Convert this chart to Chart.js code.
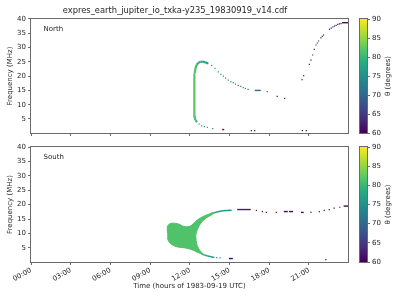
<!DOCTYPE html>
<html>
<head>
<meta charset="utf-8">
<script src="https://cdn.jsdelivr.net/npm/chart.js@4/dist/chart.umd.min.js"></script>
<style>
    body { margin: 0; background: #ffffff; }
    #figure { position: relative; width: 400px; height: 300px; overflow: hidden; }
    #figure canvas { position: absolute; }
</style>
</head>
<body>
<div id="figure">
    <canvas id="north-chart" width="352" height="140" style="left:0;top:0"></canvas>
    <canvas id="north-colorbar" width="48" height="140" style="left:352px;top:0"></canvas>
    <canvas id="south-chart" width="352" height="160" style="left:0;top:140px"></canvas>
    <canvas id="south-colorbar" width="48" height="160" style="left:352px;top:140px"></canvas>
</div>
<script>
// =========================================================
// DATA
// =========================================================

const chartTitle = "expres_earth_jupiter_io_txka-y235_19830919_v14.cdf";
const xAxisTitle = "Time (hours of 1983-09-19 UTC)";
const yAxisTitle = "Frequency (MHz)";
const colorbarTitle = "θ (degrees)";
const panelNames = ["North", "South"];

const hourTicks = [0, 3, 6, 9, 12, 15, 18, 21];
const hourLabels = ["00:00", "03:00", "06:00", "09:00", "12:00", "15:00", "18:00", "21:00"];
const freqTicks = [5, 10, 15, 20, 25, 30, 35, 40];
const thetaTicks = [60, 65, 70, 75, 80, 85, 90];

// North - continuous arc (vertical edge and top of the arch)
const northArcHours = [12.55, 12.42, 12.36, 12.33, 12.33, 12.34, 12.37, 12.43, 12.52, 12.65, 12.8, 12.95, 13.15, 13.4];
const northArcFreqs = [3.9, 4.6, 6.0, 10.0, 14.0, 18.0, 21.0, 22.8, 24.0, 24.7, 25.0, 25.1, 24.9, 24.4];
const northArcThetas = [80, 81, 82, 82, 82, 82, 81.5, 80.5, 79.5, 78.5, 78, 77.5, 77, 76.5];

// North - single detections
const northDotHours = [
    13.65, 13.9, 14.15, 14.35, 14.53, 14.7, 14.9, 15.1, 15.28, 15.45, 15.65, 15.85, 16.03, 16.2, 16.4,
    17.85, 18.6, 19.16,
    20.48, 20.6, 21.03, 21.15, 21.28, 21.4, 21.53, 21.63, 21.73, 21.9, 22.0, 22.1,
    22.55, 22.68, 22.8, 22.92, 23.05, 23.18, 23.3, 23.42,
    12.7, 12.9, 13.1, 13.33, 13.73, 16.65, 16.9, 20.5, 20.8
];
const northDotFreqs = [
    23.8, 22.7, 21.5, 20.6, 20.0, 19.3, 18.6, 18.1, 17.7, 17.2, 16.8, 16.4, 16.0, 15.7, 15.4,
    14.6, 12.9, 12.2,
    18.8, 20.2, 24.1, 25.6, 27.4, 29.4, 30.9, 31.6, 32.3, 33.4, 33.9, 34.4,
    36.4, 36.8, 37.2, 37.5, 37.8, 38.1, 38.3, 38.4,
    3.2, 2.6, 2.3, 2.1, 1.6, 0.95, 0.95, 0.95, 0.95
];
const northDotThetas = [
    77, 76.5, 76, 75.5, 75, 74.5, 74, 73.5, 73, 73, 72.5, 72, 72, 71.5, 71.5,
    70.5, 60.5, 60.5,
    62, 62, 62, 62, 62, 62, 62, 62, 62, 62, 62, 62,
    61, 61, 61, 61, 61, 61, 61, 61,
    79, 77, 76, 75, 74, 60.5, 60.5, 60.5, 60.5
];

// North - short horizontal runs
const northStreakStarts = [16.9, 23.5, 14.45];
const northStreakEnds = [17.36, 23.95, 14.6];
const northStreakFreqs = [15.0, 38.7, 1.3];
const northStreakThetas = [70.5, 61, 60.5];

// South - filled emission region
const southBlobHours = [
    10.28, 10.3, 10.45, 10.65, 10.95, 11.2, 11.45, 11.7, 11.95, 12.15, 12.35, 12.55, 12.8, 13.05, 13.35, 13.65, 13.9,
    13.7, 13.28, 12.95, 12.72, 12.55, 12.45, 12.47, 12.55, 12.7, 12.85, 13.0,
    12.85, 12.55, 12.3, 12.0, 11.65, 11.2, 10.9, 10.6, 10.4, 10.3
];
const southBlobFreqs = [
    10.5, 12.5, 13.3, 13.6, 13.5, 13.2, 12.6, 12.3, 12.4, 12.9, 13.8, 14.6, 15.4, 16.0, 16.6, 17.0, 17.3,
    16.6, 15.5, 14.3, 12.8, 11.2, 9.5, 7.6, 5.8, 4.5, 3.6, 3.0,
    3.0, 3.5, 4.1, 4.6, 5.0, 5.2, 5.5, 6.3, 7.2, 8.5
];
const southBlobTheta = 81.5;

// South - continuous tails leaving the region
const southUpperTailHours = [13.6, 13.9, 14.2, 14.5, 14.8, 15.15];
const southUpperTailFreqs = [16.9, 17.3, 17.6, 17.85, 18.0, 18.05];
const southUpperTailThetas = [78, 77, 76, 75.5, 75, 75];

const southLowerTailHours = [12.85, 13.1, 13.35, 13.6, 13.85];
const southLowerTailFreqs = [3.0, 2.55, 2.2, 1.9, 1.7];
const southLowerTailThetas = [79, 78, 77, 76, 75];

// South - single detections
const southDotHours = [17.03, 17.48, 17.78, 18.53, 21.15, 21.78, 22.15, 22.53, 22.9, 23.33, 14.03, 14.28, 22.28];
const southDotFreqs = [18.0, 17.6, 17.3, 17.3, 17.3, 17.6, 18.0, 18.3, 18.8, 19.1, 1.6, 1.5, 0.95];
const southDotThetas = [61, 60.5, 60.5, 60.5, 60.5, 60.5, 60.5, 60.5, 60.5, 60.5, 75, 74.5, 60.5];

// South - short horizontal runs
const southStreakStarts = [15.58, 19.1, 19.5, 20.4, 23.62, 14.95];
const southStreakEnds = [16.6, 19.4, 19.8, 20.6, 23.95, 15.25];
const southStreakFreqs = [18.3, 17.6, 17.6, 17.3, 19.5, 1.3];
const southStreakThetas = [62.5, 60.5, 60.5, 60.5, 60.5, 60.5];

// =========================================================
// STYLE
// =========================================================

const FONT_FAMILY = "'DejaVu Sans', sans-serif";
const TEXT_COLOR = "#262626";
const SPINE_COLOR = "#6b6b6b";
const VIRIDIS_STOPS = ["#440154", "#472d7b", "#3b528b", "#2c728e", "#21918c", "#28ae80", "#5ec962", "#addc30", "#fde725"];

// --- Helpers --- //

function hexToRgb(hex) {
    const value = parseInt(hex.slice(1), 16);
    return [(value >> 16) & 255, (value >> 8) & 255, value & 255];
}

function viridisColor(theta) {
    const low = thetaTicks[0];
    const high = thetaTicks[thetaTicks.length - 1];
    const t = Math.min(Math.max((theta - low) / (high - low), 0), 1);
    const position = t * (VIRIDIS_STOPS.length - 1);
    const index = Math.min(Math.floor(position), VIRIDIS_STOPS.length - 2);
    const fraction = position - index;

    const from = hexToRgb(VIRIDIS_STOPS[index]);
    const to = hexToRgb(VIRIDIS_STOPS[index + 1]);
    const rgb = from.map(function (channel, i) {
        return Math.round(channel + (to[i] - channel) * fraction);
    });

    return "rgb(" + rgb.join(",") + ")";
}

function toPoints(hours, freqs) {
    const points = [];

    for (let i = 0; i < hours.length; i++) {
        points.push({ x: hours[i], y: freqs[i] });
    }

    return points;
}

function font(size) {
    return { family: FONT_FAMILY, size: size, weight: "normal", lineHeight: 1.2 };
}

// =========================================================
// DATASETS
// =========================================================

function createLineDataset(hours, freqs, thetas, width) {
    return {
        data: toPoints(hours, freqs),
        showLine: true,
        fill: false,
        borderWidth: width,
        borderColor: viridisColor(thetas[0]),
        segment: {
            borderColor: function (ctx) {
                return viridisColor(thetas[ctx.p0DataIndex]);
            }
        },
        pointRadius: 0
    };
}

function createDotDataset(hours, freqs, thetas) {
    return {
        data: toPoints(hours, freqs),
        showLine: false,
        pointStyle: "rect",
        pointRadius: 0.85,
        pointBorderWidth: 0,
        pointBackgroundColor: thetas.map(viridisColor)
    };
}

function createStreakDatasets(starts, ends, freqs, thetas) {
    const datasets = [];

    for (let i = 0; i < starts.length; i++) {
        datasets.push({
            data: [{ x: starts[i], y: freqs[i] }, { x: ends[i], y: freqs[i] }],
            showLine: true,
            fill: false,
            borderWidth: 1.4,
            borderColor: viridisColor(thetas[i]),
            pointRadius: 0
        });
    }

    return datasets;
}

function createBlobDataset(hours, freqs, theta) {
    const color = viridisColor(theta);

    return {
        data: toPoints(hours, freqs),
        showLine: true,
        fill: "shape",
        backgroundColor: color,
        borderColor: color,
        borderWidth: 1,
        pointRadius: 0
    };
}

const northDatasets = [
    createLineDataset(northArcHours, northArcFreqs, northArcThetas, 2.2),
    createDotDataset(northDotHours, northDotFreqs, northDotThetas)
].concat(createStreakDatasets(northStreakStarts, northStreakEnds, northStreakFreqs, northStreakThetas));

const southDatasets = [
    createBlobDataset(southBlobHours, southBlobFreqs, southBlobTheta),
    createLineDataset(southUpperTailHours, southUpperTailFreqs, southUpperTailThetas, 1.5),
    createLineDataset(southLowerTailHours, southLowerTailFreqs, southLowerTailThetas, 1.5),
    createDotDataset(southDotHours, southDotFreqs, southDotThetas)
].concat(createStreakDatasets(southStreakStarts, southStreakEnds, southStreakFreqs, southStreakThetas));

// =========================================================
// PLUGINS
// =========================================================

const framePlugin = {
    id: "frame",
    afterDraw(chart) {
        const area = chart.chartArea;
        const ctx = chart.ctx;

        ctx.save();
        ctx.strokeStyle = SPINE_COLOR;
        ctx.lineWidth = 1;
        ctx.strokeRect(Math.round(area.left) - 0.5, Math.round(area.top) - 0.5,
            Math.round(area.right - area.left) + 1, Math.round(area.bottom - area.top) + 1);
        ctx.restore();
    }
};

const panelNamePlugin = {
    id: "panelName",
    afterDraw(chart, args, options) {
        const area = chart.chartArea;
        const ctx = chart.ctx;

        ctx.save();
        ctx.fillStyle = TEXT_COLOR;
        ctx.font = "7px " + FONT_FAMILY;
        ctx.textBaseline = "middle";
        ctx.fillText(options.text, area.left + 12.5, area.top + 10.5);
        ctx.restore();
    }
};

const colorbarLabelPlugin = {
    id: "colorbarLabel",
    afterDraw(chart) {
        const area = chart.chartArea;
        const ctx = chart.ctx;

        ctx.save();
        ctx.translate(area.right + 21.5, (area.top + area.bottom) / 2);
        ctx.rotate(-Math.PI / 2);
        ctx.fillStyle = TEXT_COLOR;
        ctx.font = "7px " + FONT_FAMILY;
        ctx.textAlign = "center";
        ctx.textBaseline = "middle";
        ctx.fillText(colorbarTitle, 0, 0);
        ctx.restore();
    }
};

// =========================================================
// CHARTS
// =========================================================

function createPanelChart(canvas, datasets, panelName, isTopPanel) {
    return new Chart(canvas, {
        type: "scatter",
        data: { datasets: datasets },
        options: {
            responsive: false,
            animation: false,
            events: [],
            layout: {
                padding: { top: isTopPanel ? 0 : 7, right: 2, bottom: 0, left: 0 }
            },
            plugins: {
                legend: { display: false },
                tooltip: { enabled: false },
                title: {
                    display: isTopPanel,
                    text: chartTitle,
                    color: TEXT_COLOR,
                    font: font(8.33),
                    padding: { top: 5.7, bottom: 3.3 }
                },
                panelName: { text: panelName }
            },
            scales: {
                x: {
                    type: "linear",
                    min: 0,
                    max: 23.95,
                    afterBuildTicks: function (scale) {
                        scale.ticks = hourTicks.map(value => ({ value: value }));
                    },
                    afterFit: function (scale) {
                        scale.height = isTopPanel ? 7 : 38;
                    },
                    border: { display: false },
                    grid: {
                        drawOnChartArea: false,
                        drawTicks: true,
                        tickLength: 3,
                        tickColor: SPINE_COLOR
                    },
                    ticks: {
                        display: !isTopPanel,
                        autoSkip: false,
                        minRotation: 30,
                        maxRotation: 30,
                        padding: 1,
                        color: TEXT_COLOR,
                        font: font(7),
                        callback: function (value, index) {
                            return hourLabels[index];
                        }
                    },
                    title: {
                        display: !isTopPanel,
                        text: xAxisTitle,
                        color: TEXT_COLOR,
                        font: font(7),
                        padding: { top: 0, bottom: 10 }
                    }
                },
                y: {
                    type: "linear",
                    min: 0.1,
                    max: 40,
                    afterBuildTicks: function (scale) {
                        scale.ticks = freqTicks.map(value => ({ value: value }));
                    },
                    afterFit: function (scale) {
                        scale.width = 31;
                    },
                    border: { display: false },
                    grid: {
                        drawOnChartArea: false,
                        drawTicks: true,
                        tickLength: 3,
                        tickColor: SPINE_COLOR
                    },
                    ticks: {
                        padding: 2,
                        color: TEXT_COLOR,
                        font: font(7)
                    },
                    title: {
                        display: true,
                        text: yAxisTitle,
                        color: TEXT_COLOR,
                        font: font(7),
                        padding: { top: 6, bottom: 0 }
                    }
                }
            }
        },
        plugins: [framePlugin, panelNamePlugin]
    });
}

function createViridisGradient(chart) {
    const area = chart.chartArea;

    if (!area) {
        return VIRIDIS_STOPS[4];
    }

    const gradient = chart.ctx.createLinearGradient(0, area.bottom, 0, area.top);

    for (let i = 0; i < VIRIDIS_STOPS.length; i++) {
        gradient.addColorStop(i / (VIRIDIS_STOPS.length - 1), VIRIDIS_STOPS[i]);
    }

    return gradient;
}

function createColorbarChart(canvas, isTopPanel) {
    return new Chart(canvas, {
        type: "bar",
        data: {
            labels: [colorbarTitle],
            datasets: [
                {
                    data: [[thetaTicks[0], thetaTicks[thetaTicks.length - 1]]],
                    backgroundColor: function (ctx) {
                        return createViridisGradient(ctx.chart);
                    },
                    borderWidth: 0,
                    barPercentage: 1,
                    categoryPercentage: 1
                }
            ]
        },
        options: {
            responsive: false,
            animation: false,
            events: [],
            layout: {
                padding: { top: isTopPanel ? 19 : 7, right: 0, bottom: isTopPanel ? 7 : 38, left: 8 }
            },
            plugins: {
                legend: { display: false },
                tooltip: { enabled: false }
            },
            scales: {
                x: { display: false },
                y: {
                    position: "right",
                    min: thetaTicks[0],
                    max: thetaTicks[thetaTicks.length - 1],
                    afterBuildTicks: function (scale) {
                        scale.ticks = thetaTicks.map(value => ({ value: value }));
                    },
                    afterFit: function (scale) {
                        scale.width = 33;
                    },
                    border: { display: false },
                    grid: {
                        drawOnChartArea: false,
                        drawTicks: true,
                        tickLength: 3,
                        tickColor: SPINE_COLOR
                    },
                    ticks: {
                        padding: 2,
                        color: TEXT_COLOR,
                        font: font(7)
                    }
                }
            }
        },
        plugins: [framePlugin, colorbarLabelPlugin]
    });
}

createPanelChart(document.getElementById("north-chart"), northDatasets, panelNames[0], true);
createColorbarChart(document.getElementById("north-colorbar"), true);
createPanelChart(document.getElementById("south-chart"), southDatasets, panelNames[1], false);
createColorbarChart(document.getElementById("south-colorbar"), false);
</script>
</body>
</html>
